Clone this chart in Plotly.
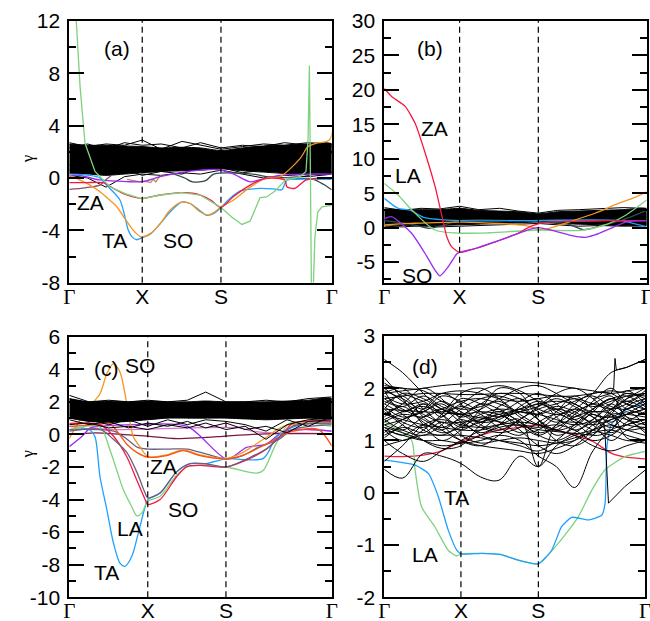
import plotly.graph_objects as go

# ---------------- high-symmetry points (fraction of k-path) ----------------
kpts_a = [0.0, 0.278, 0.578, 1.0]
kpts_b = [0.0, 0.287, 0.587, 1.0]
kpts_c = [0.0, 0.299, 0.597, 1.0]
kpts_d = [0.0, 0.294, 0.591, 1.0]
klabels = ["Γ", "X", "S", "Γ"]

# ---------------- panel (a) ----------------
ka_grid = [0, 0.07, 0.14, 0.21, 0.278, 0.35, 0.43, 0.5, 0.578, 0.66, 0.74, 0.82, 0.91, 1.0]
band_a_hi = [2.6, 2.5, 2.5, 2.45, 2.4, 2.3, 2.35, 2.3, 2.1, 2.3, 2.45, 2.5, 2.6, 2.6]
band_a_lo = [0.35, 0.3, 0.2, 0.3, 0.4, 0.5, 0.55, 0.6, 0.7, 0.55, 0.45, 0.35, 0.3, 0.35]
black_a = [
    [2.7, 2.4, 2.6, 2.5, 2.9, 2.2, 2.8, 2.5, 2.2, 2.4, 2.6, 2.5, 2.7, 2.6],
    [0.2, 0.0, -0.7, 0.1, 0.3, 0.2, 0.4, 0.3, 0.6, 0.3, 0.0, 0.2, 0.1, 0.3],
    [1.0, 1.5, 2.0, 1.2, 0.8, 1.6, 2.0, 1.4, 1.5, 1.9, 1.2, 1.0, 1.6, 1.9],
    [0.6, 0.9, 0.5, 0.7, 0.2, 0.5, 0.3, 0.9, 0.8, 0.4, 0.6, 0.5, 0.2, 0.5],
    [2.3, 2.6, 2.2, 2.7, 2.5, 2.6, 2.3, 2.7, 2.3, 2.5, 2.4, 2.7, 2.5, 2.4],
]
green_a_k = [0.015, 0.026, 0.041, 0.06, 0.098, 0.155, 0.213, 0.278, 0.346, 0.428, 0.498, 0.578,
             0.62, 0.658, 0.689, 0.727, 0.752, 0.784, 0.822, 0.879, 0.902, 0.91, 0.915, 0.919,
             0.923, 0.929, 0.936, 0.947, 0.963, 1.0]
green_a_g = [16, 12, 7, 2.65, 0.5, -0.67, -1.2, -1.6, -1.3, -1.12, -1.3, -2.25,
             -3.0, -3.55, -3.3, -1.5, -1.45, -1.0, -0.2, 0.1, 0.5, 3.0, 8.6, 0.0,
             -9.0, -9.0, -4.5, -2.6, -2.2, -2.1]
blue_a_k = [0, 0.079, 0.117, 0.13, 0.155, 0.193, 0.212, 0.225, 0.239, 0.257, 0.278, 0.308, 0.346,
            0.384, 0.428, 0.46, 0.498, 0.524, 0.551, 0.578, 0.61, 0.65, 0.727, 0.784, 0.81,
            0.829, 0.86, 1.0]
blue_a_g = [0.3, 0.2, 0.0, -0.28, -0.8, -1.68, -2.96, -4.0, -4.5, -4.72, -4.55, -4.3, -3.5,
            -2.6, -1.85, -1.95, -2.5, -2.85, -2.7, -2.25, -1.6, -1.0, -0.79, -0.85, -0.9,
            -0.16, -0.1, -0.1]
orange_a_k = [0, 0.028, 0.079, 0.117, 0.155, 0.181, 0.212, 0.244, 0.269, 0.278, 0.308, 0.346,
              0.384, 0.428, 0.46, 0.498, 0.53, 0.555, 0.578, 0.625, 0.689, 0.752, 0.803, 0.88,
              0.91, 0.94, 0.993, 1.0]
orange_a_g = [0.2, -0.03, -0.54, -1.05, -1.7, -2.2, -3.1, -4.0, -4.45, -4.5, -4.25, -3.5,
              -2.45, -1.85, -1.95, -2.58, -2.83, -2.58, -2.2, -1.7, -0.7, 0.0, 0.1, 1.5,
              2.4, 2.65, 2.95, 14.0]
red_a_k = [0, 0.06, 0.13, 0.168, 0.219, 0.278, 0.346, 0.428, 0.47, 0.5, 0.54, 0.578, 0.625,
           0.689, 0.752, 0.822, 0.829, 0.86, 0.902, 1.0]
red_a_g = [-0.36, -0.36, -0.36, -0.8, -1.3, -1.56, -1.3, -1.12, -1.15, -1.3, -1.7, -2.25, -1.43,
           -0.54, -0.03, -0.16, -0.67, -0.79, -0.16, 0.0]
purple_a_k = [0, 0.028, 0.117, 0.219, 0.278, 0.346, 0.42, 0.5, 0.56, 0.62, 0.689, 0.72, 0.8, 0.9, 1.0]
purple_a_g = [0.1, 0.23, -0.15, -0.28, -0.28, 0.1, 0.4, 0.6, 0.65, 0.35, -0.29, -0.16, 0.2, 0.3, 0.3]
mauve_a_k = [0, 0.06, 0.117, 0.135, 0.16]
mauve_a_g = [-0.87, -0.75, -0.54, -0.2, 0.2]
tan_a_k = [0.22, 0.25, 0.27, 0.29, 0.31, 0.32, 0.33, 0.34, 0.35]
tan_a_g = [-0.1, -0.25, -0.3, -0.25, -0.35, -0.1, -0.3, 0.0, 0.2]
slate_a_k = [0.4, 0.44, 0.47, 0.52, 0.55, 0.7, 0.75, 0.85, 0.93, 0.97, 1.0]
slate_a_g = [0.3, 0.0, -0.3, -0.2, 0.3, 0.3, 0.1, 0.0, -0.1, -0.5, -0.9]

# ---------------- panel (b) ----------------
kb_grid = [0, 0.07, 0.14, 0.21, 0.287, 0.36, 0.44, 0.51, 0.587, 0.66, 0.74, 0.82, 0.91, 1.0]
band_b_hi = [2.7, 2.6, 2.6, 2.6, 2.8, 2.5, 2.4, 2.3, 2.0, 2.3, 2.4, 2.5, 2.6, 2.7]
band_b_lo = [0.4, 0.3, 0.2, 0.3, 0.4, 0.5, 0.6, 0.7, 0.8, 0.6, 0.5, 0.4, 0.3, 0.4]
black_b = [
    [2.9, 2.5, 2.8, 2.7, 3.1, 2.6, 2.8, 2.4, 2.1, 2.5, 2.6, 2.7, 2.9, 2.8],
    [0.2, 0.1, 0.3, 0.1, 0.2, 0.3, 0.4, 0.5, 0.6, 0.4, 0.2, 0.3, 0.2, 0.3],
    [1.2, 1.8, 2.2, 1.0, 1.6, 2.1, 1.3, 1.0, 1.4, 1.9, 1.1, 1.6, 2.2, 1.5],
]
red_b_k = [0, 0.029, 0.08, 0.118, 0.156, 0.194, 0.22, 0.238, 0.257, 0.287, 0.35, 0.42, 0.5, 0.56, 0.62, 0.75, 0.85, 1.0]
red_b_g = [20.2, 19.0, 17.6, 15.1, 10.8, 5.9, 1.6, -1.3, -2.8, -3.6, -3.0, -2.1, -1.0, 0.2, 0.8, 0.9, 1.0, 1.0]
purple_b_k = [0, 0.028, 0.104, 0.155, 0.193, 0.212, 0.244, 0.276, 0.287, 0.35, 0.42, 0.5, 0.56,
              0.587, 0.65, 0.72, 0.765, 0.8, 0.87, 0.92, 1.0]
purple_b_g = [1.3, 1.6, -0.83, -3.73, -6.16, -7.0, -5.68, -3.83, -3.6, -3.0, -2.1, -1.0, -0.2,
              0.0, -0.5, -1.2, -1.41, -1.1, 0.0, 0.8, 1.0]
green_b_k = [0, 0.053, 0.104, 0.193, 0.28, 0.4, 0.587, 0.75, 0.85, 0.92, 1.0]
green_b_g = [6.4, 4.7, 2.6, -0.35, -0.8, -0.75, -0.35, -0.4, 0.5, 1.8, 4.0]
blue_b_k = [0, 0.053, 0.1, 0.15, 0.3, 0.5, 0.9, 0.96, 1.0]
blue_b_g = [4.25, 2.8, 2.5, 1.5, 1.0, 1.0, 1.0, 0.5, 0.1]
orange_b_k = [0, 0.1, 0.3, 0.55, 0.587, 0.62, 0.72, 0.803, 0.892, 0.95, 1.0]
orange_b_g = [0.4, 0.6, 0.8, 0.2, -0.3, -0.2, 1.0, 2.08, 3.5, 4.3, 5.2]
slate_b_k = [0, 0.1, 0.17, 0.22, 0.287, 0.5, 0.7, 0.76, 0.82, 0.9, 1.0]
slate_b_g = [1.0, 0.5, -0.1, 0.3, 1.0, 1.0, 0.5, -0.3, 0.2, 1.0, 2.5]

# ---------------- panel (c) ----------------
kc_grid = [0, 0.075, 0.15, 0.225, 0.299, 0.375, 0.45, 0.52, 0.597, 0.67, 0.75, 0.83, 0.91, 1.0]
band_c_hi = [2.2, 2.0, 2.05, 2.0, 2.05, 2.0, 2.0, 2.05, 2.0, 2.0, 2.0, 2.05, 2.1, 2.2]
band_c_lo = [1.0, 0.8, 0.75, 0.8, 0.9, 1.0, 1.0, 1.0, 1.0, 0.95, 0.9, 0.95, 1.0, 1.0]
black_c = [
    [2.4, 2.0, 2.1, 2.0, 2.1, 2.0, 2.1, 2.6, 2.0, 2.0, 2.1, 2.0, 2.2, 2.3],
    [0.6, 0.7, 0.4, 0.5, 0.3, 0.6, 0.4, 0.7, 0.3, 0.5, -0.3, 0.6, 0.9, 1.0],
    [0.9, 0.6, 0.8, 0.4, 0.7, 0.5, 0.8, 0.4, 0.7, 0.3, 0.5, 0.1, 0.8, 0.9],
    [1.2, 0.9, 0.6, 0.9, 0.5, 0.9, 0.6, 0.9, 0.8, 0.6, 0.2, 0.9, 0.5, 1.1],
]
orange_c_k = [0, 0.066, 0.117, 0.143, 0.168, 0.193, 0.219, 0.244, 0.269, 0.299, 0.371, 0.434,
              0.498, 0.597, 0.65, 0.74, 0.816, 1.0]
orange_c_g = [-0.24, 1.5, 2.5, 3.73, 4.35, 3.84, 1.9, -0.14, -0.75, -1.36, -1.26, -0.95,
              -1.26, -1.47, -1.2, -0.3, 0.5, 0.7]
orangered_c_k = [0, 0.1, 0.155, 0.219, 0.257, 0.299, 0.371, 0.434, 0.498, 0.597, 0.66, 0.75, 0.85, 0.95, 1.0]
orangered_c_g = [0.5, 0.6, 0.65, -0.6, -1.1, -1.4, -1.3, -1.0, -1.3, -1.5, -1.3, -0.6, 0.2, 0.3, -0.7]
blue_c_k = [0, 0.079, 0.098, 0.117, 0.143, 0.168, 0.193, 0.212, 0.238, 0.263, 0.289, 0.299,
            0.346, 0.409, 0.46, 0.52, 0.597, 0.74, 0.79, 0.854, 1.0]
blue_c_g = [0.5, 0.27, -0.14, -2.6, -4.6, -6.65, -7.9, -8.1, -7.5, -6.06, -4.44, -4.0,
            -3.6, -2.3, -1.8, -1.8, -1.5, -1.47, -0.14, 0.47, 0.9]
green_c_k = [0, 0.117, 0.155, 0.181, 0.206, 0.238, 0.257, 0.276, 0.299, 0.346, 0.409, 0.448,
             0.498, 0.597, 0.714, 0.74, 0.79, 0.841, 1.0]
green_c_g = [0.3, 0.47, -0.95, -2.2, -3.4, -4.44, -5.0, -4.85, -4.1, -3.8, -2.5, -2.0,
             -1.9, -2.0, -2.38, -2.2, -0.5, 0.7, 0.5]
red_c_k = [0, 0.117, 0.168, 0.219, 0.257, 0.289, 0.299, 0.346, 0.409, 0.448, 0.498, 0.597,
           0.689, 0.752, 0.816, 0.854, 1.0]
red_c_g = [0.68, 0.6, -0.1, -1.37, -2.8, -4.0, -4.3, -4.0, -2.6, -1.98, -1.9, -2.0,
           -1.47, -0.9, 0.1, 0.7, 0.8]
greyso_c_k = [0, 0.12, 0.168, 0.219, 0.257, 0.289, 0.299, 0.346, 0.409, 0.46, 0.52, 0.597,
              0.69, 0.75, 0.8, 0.85, 1.0]
greyso_c_g = [0.2, 0.3, -0.3, -1.1, -2.3, -3.6, -3.9, -3.6, -2.3, -1.8, -1.8, -2.0,
              -1.4, -0.9, -0.2, 0.5, 0.7]
greyza_c_k = [0, 0.17, 0.22, 0.26, 0.299, 0.38, 0.45, 0.52, 0.597, 0.66, 0.72, 0.8, 0.85, 1.0]
greyza_c_g = [0.3, 0.2, -0.3, -0.8, -0.9, -0.9, -0.9, -1.2, -1.5, -1.3, -0.8, -0.3, 0.3, 0.6]
purple_c_k = [0, 0.05, 0.08, 0.12, 0.25, 0.45, 0.6, 0.676, 0.75, 0.8, 0.85, 1.0]
purple_c_g = [-0.75, -0.1, 0.4, 0.5, 0.6, 0.5, -1.5, -0.8, -0.6, 0.0, 0.3, 0.2]
maroon_c_k = [0, 0.1, 0.2, 0.299, 0.4, 0.5, 0.597, 0.7, 0.8, 1.0]
maroon_c_g = [0.0, 0.1, 0.0, -0.1, -0.25, -0.2, -0.1, 0.0, 0.05, 0.05]
pink_c_k = [0, 0.1, 0.2, 0.65, 0.7, 0.8, 0.9, 1.0]
pink_c_g = [0.3, 0.35, 0.3, 0.4, 0.2, 0.1, 0.3, 0.2]

# ---------------- panel (d) ----------------
kd_grid = [0, 0.07, 0.15, 0.22, 0.294, 0.37, 0.44, 0.52, 0.591, 0.66, 0.73, 0.80, 0.87, 0.93, 1.0]
black_d = [
    [2.55, 2.3, 1.9, 1.6, 1.5, 1.7, 1.9, 1.8, 1.6, 1.5, 1.6, 1.9, 2.3, 2.4, 2.55],
    [0.45, 0.28, 0.75, 0.7, 0.56, 0.3, 0.24, 0.7, 0.5, 0.9, 1.1, 1.2, 1.3, 1.2, 1.25],
    [1.2, 1.1, 1.0, 1.0, 0.95, 1.0, 1.1, 1.0, 0.7, 0.5, 0.1, 0.8, 1.2, 1.3, 1.4],
    [1.9, 1.95, 2.0, 2.05, 2.08, 2.1, 2.12, 2.12, 2.1, 2.05, 2.0, 1.95, 1.9, 1.95, 2.0],
    [1.8, 1.85, 1.9, 1.9, 1.88, 1.88, 1.9, 1.9, 1.88, 1.85, 1.85, 1.9, 1.95, 1.9, 1.85],
    [1.0, 0.75, 0.6, 0.8, 1.0, 1.2, 1.45, 1.6, 1.75, 1.6, 1.4, 1.2, 1.1, 1.0, 1.0],
    [2.2, 1.8, 1.3, 1.0, 1.2, 1.6, 2.0, 1.9, 1.4, 1.0, 0.9, 1.1, 1.5, 1.8, 1.9],
    [1.5, 1.7, 2.0, 1.8, 1.4, 1.1, 1.0, 0.9, 0.8, 1.0, 1.3, 1.6, 1.8, 1.7, 1.6],
    [1.3, 1.4, 1.6, 1.9, 1.7, 1.3, 1.2, 1.4, 1.65, 1.9, 2.0, 1.8, 1.5, 1.4, 1.3],
    [1.7, 1.5, 1.2, 1.1, 1.3, 1.5, 1.6, 1.55, 1.5, 1.4, 1.3, 1.4, 1.7, 1.9, 1.8],
    [1.1, 1.3, 1.7, 1.5, 1.1, 0.95, 1.0, 1.05, 1.0, 0.95, 1.0, 1.2, 1.4, 1.5, 1.6],
    [1.9, 2.0, 1.6, 1.3, 1.0, 0.9, 1.1, 1.4, 1.6, 1.7, 1.8, 1.7, 1.6, 1.7, 1.9],
    [1.4, 1.2, 1.1, 1.3, 1.6, 1.8, 1.85, 1.7, 1.4, 1.2, 1.3, 1.5, 1.3, 1.2, 1.1],
    [1.6, 1.9, 1.8, 1.6, 1.5, 1.55, 1.5, 1.3, 1.1, 1.3, 1.7, 1.9, 1.9, 1.7, 1.5],
    [1.2, 1.0, 1.2, 1.5, 1.9, 2.0, 1.8, 1.5, 1.3, 1.2, 1.5, 1.7, 1.6, 1.4, 1.2],
    [2.0, 1.75, 1.5, 1.35, 1.35, 1.4, 1.5, 1.6, 1.7, 1.75, 1.7, 1.5, 1.45, 1.6, 1.75],
    [1.75, 1.6, 1.4, 1.2, 1.0, 0.9, 0.85, 0.8, 0.75, 0.85, 1.0, 1.3, 1.5, 1.5, 1.45],
    [1.5, 1.4, 1.3, 1.25, 1.2, 1.2, 1.3, 1.4, 0.5, 1.3, 1.35, 1.3, 1.4, 1.5, 1.6],
    [0.9, 1.0, 1.1, 1.1, 1.1, 1.05, 1.0, 0.95, 0.9, 0.95, 1.05, 1.15, 1.2, 1.1, 1.0],
    [1.35, 1.5, 1.45, 1.6, 1.75, 1.8, 1.7, 1.55, 1.5, 1.6, 1.5, 1.3, 1.0, 1.2, 1.35],
    [1.85, 1.7, 1.75, 1.9, 1.95, 1.9, 1.8, 1.75, 1.8, 1.85, 1.8, 1.65, 1.75, 1.85, 1.9],
    [0.6, 0.9, 1.3, 1.4, 1.3, 1.25, 1.3, 1.35, 1.3, 1.2, 1.1, 0.9, 0.8, 0.9, 1.0],
    [1.25, 1.15, 1.0, 0.9, 0.95, 1.1, 1.25, 1.3, 1.25, 1.3, 1.2, 1.0, 1.1, 1.3, 1.4],
    [2.05, 2.0, 1.95, 1.75, 1.6, 1.65, 1.8, 2.0, 2.05, 1.9, 1.7, 1.55, 1.6, 1.8, 2.0],
    [1.55, 1.3, 1.0, 0.85, 0.9, 1.3, 1.5, 1.2, 0.9, 0.75, 0.9, 1.2, 1.6, 1.75, 1.6],
    [1.65, 1.45, 1.55, 1.75, 1.55, 1.35, 1.4, 1.6, 1.4, 1.1, 1.25, 1.55, 1.8, 1.6, 1.5],
    [1.45, 1.65, 1.35, 1.15, 1.25, 1.45, 1.35, 1.15, 1.2, 1.45, 1.6, 1.45, 1.25, 1.5, 1.7],
    [1.95, 1.55, 1.7, 1.45, 1.8, 1.7, 1.55, 1.75, 1.9, 1.7, 1.45, 1.75, 2.0, 1.75, 1.95],
    [1.15, 1.4, 1.55, 1.7, 1.45, 1.6, 1.75, 1.45, 1.3, 1.55, 1.85, 1.6, 1.35, 1.55, 1.3],
    [1.7, 1.85, 1.45, 1.25, 1.4, 1.25, 1.15, 1.25, 1.5, 1.65, 1.55, 1.35, 1.55, 1.95, 1.7],
    [1.3, 1.2, 1.45, 1.6, 1.35, 1.15, 1.3, 1.65, 1.8, 1.45, 1.2, 1.4, 1.7, 1.45, 1.15],
    [2.1, 1.9, 1.75, 1.55, 1.7, 1.95, 2.05, 1.95, 1.75, 1.6, 1.75, 1.85, 1.65, 1.6, 1.8],
    [1.05, 1.25, 1.15, 1.35, 1.2, 1.4, 1.55, 1.35, 1.1, 1.0, 1.15, 1.35, 1.45, 1.3, 1.25],
    [1.6, 1.35, 1.25, 1.45, 1.65, 1.5, 1.25, 1.1, 1.35, 1.5, 1.35, 1.1, 1.2, 1.65, 1.8],
    [1.8, 1.65, 1.85, 1.65, 1.5, 1.35, 1.65, 1.8, 1.55, 1.35, 1.55, 1.7, 1.85, 1.45, 1.4],
    [1.4, 1.55, 1.65, 1.5, 1.25, 1.35, 1.45, 1.55, 1.65, 1.8, 1.65, 1.45, 1.15, 1.35, 1.55],
    [1.25, 1.1, 1.3, 1.2, 1.45, 1.7, 1.6, 1.35, 1.15, 1.25, 1.45, 1.55, 1.5, 1.05, 0.95],
    [1.95, 1.8, 1.6, 1.85, 1.75, 1.55, 1.45, 1.55, 1.7, 1.55, 1.4, 1.6, 1.8, 1.85, 1.65],
]
dip_d_k = [0.0, 0.3, 0.6, 0.8, 0.845, 0.86, 0.923, 1.0]
dip_d_g = [1.6, 1.5, 1.2, 1.1, 1.3, -0.2, 0.12, 0.43]
spike_d_k = [0.8, 0.87, 0.88, 0.885, 0.89, 0.93, 1.0]
spike_d_g = [1.8, 1.9, 2.0, 2.57, 2.35, 2.4, 2.55]
red_d_g = [0.7, 0.69, 0.72, 0.8, 0.98, 1.1, 1.2, 1.25, 1.3, 1.2, 1.1, 0.98, 0.76, 0.68, 0.65]
blue_d_k = [0, 0.118, 0.169, 0.207, 0.245, 0.278, 0.294, 0.374, 0.444, 0.514, 0.591, 0.642,
            0.68, 0.719, 0.783, 0.834, 0.847, 0.853, 0.857, 0.87, 0.93, 1.0]
blue_d_g = [0.63, 0.53, 0.37, -0.07, -0.71, -1.1, -1.17, -1.16, -1.18, -1.29, -1.36, -1.1,
            -0.65, -0.47, -0.52, -0.43, -0.2, 0.82, 1.0, 1.3, 1.6, 1.7]
green_d_k = [0, 0.105, 0.118, 0.143, 0.194, 0.245, 0.278, 0.294, 0.374, 0.444, 0.514, 0.591,
             0.667, 0.744, 0.796, 0.847, 0.923, 1.0]
green_d_g = [1.36, 1.0, 0.44, -0.27, -0.65, -1.1, -1.21, -1.17, -1.16, -1.18, -1.29, -1.36,
             -0.97, -0.46, 0.05, 0.44, 0.69, 0.79]

# ---------------- axis tick labels ----------------
yt_a = [-8, -4, 0, 4, 8, 12]
yt_b = [-5, 0, 5, 10, 15, 20, 25, 30]
yt_c = [-10, -8, -6, -4, -2, 0, 2, 4, 6]
yt_d = [-2, -1, 0, 1, 2, 3]
ym_a = [-6, -2, 2, 6, 10]
ym_b = [-7.5, -2.5, 2.5, 7.5, 12.5, 17.5, 22.5, 27.5]
ym_c = [-9, -7, -5, -3, -1, 1, 3, 5]
ym_d = [-1.5, -0.5, 0.5, 1.5, 2.5]
yrange_a = [-8, 12]
yrange_b = [-8, 30]
yrange_c = [-10, 6]
yrange_d = [-2, 3]

# text labels: (text, k, gamma)
labels_a = [("ZA", 0.082, -1.9), ("TA", 0.174, -4.74), ("SO", 0.415, -4.8)]
labels_b = [("ZA", 0.193, 14.4), ("LA", 0.091, 7.5), ("SO", 0.123, -6.9)]
labels_c = [("SO", 0.269, 4.26), ("ZA", 0.358, -1.98), ("SO", 0.434, -4.64),
            ("LA", 0.231, -5.76), ("TA", 0.14, -8.5)]
labels_d = [("TA", 0.278, -0.1), ("LA", 0.156, -1.19)]

C_GREEN = "#7dd27d"
C_BLUE = "#1ea0ff"
C_RED = "#f5193f"
C_ORANGE = "#f5961e"
C_PURPLE = "#9a2bf0"
C_MAUVE = "#8a5068"
C_TAN = "#c08a5a"
C_SLATE = "#2e4a4a"
C_GREYP = "#6b5f80"
C_MAROON = "#7a1840"
C_PINK = "#e070d0"
C_ORED = "#ff5010"

fig = go.Figure()


def line(x, y, color, ax, width=1.3, shape="spline", smooth=0.8):
    xa, ya = ax
    kw = dict(shape=shape)
    if shape == "spline":
        kw["smoothing"] = smooth
    fig.add_trace(go.Scatter(x=x, y=y, mode="lines", xaxis=xa, yaxis=ya,
                             line=dict(color=color, width=width, **kw),
                             showlegend=False, hoverinfo="skip"))


def band(k, hi, lo, ax):
    xa, ya = ax
    fig.add_trace(go.Scatter(x=list(k) + list(k[::-1]), y=list(hi) + list(lo[::-1]),
                             fill="toself", fillcolor="black", mode="lines",
                             line=dict(color="black", width=1, shape="spline", smoothing=0.6),
                             xaxis=xa, yaxis=ya, showlegend=False, hoverinfo="skip"))


AX_A, AX_B, AX_C, AX_D = ("x", "y"), ("x2", "y2"), ("x3", "y3"), ("x4", "y4")

# panel a
band(ka_grid, band_a_hi, band_a_lo, AX_A)
for g in black_a:
    line(ka_grid, g, "black", AX_A, width=1.0, shape="linear")
line(mauve_a_k, mauve_a_g, C_MAUVE, AX_A)
line(tan_a_k, tan_a_g, C_TAN, AX_A, shape="linear")
line(slate_a_k, slate_a_g, C_SLATE, AX_A)
line(purple_a_k, purple_a_g, C_PURPLE, AX_A)
line(blue_a_k, blue_a_g, C_BLUE, AX_A)
line(orange_a_k, orange_a_g, C_ORANGE, AX_A)
line(red_a_k, red_a_g, C_RED, AX_A)
line(green_a_k, green_a_g, C_GREEN, AX_A, shape="linear")

# panel b
band(kb_grid, band_b_hi, band_b_lo, AX_B)
for g in black_b:
    line(kb_grid, g, "black", AX_B, width=1.0, shape="linear")
line(slate_b_k, slate_b_g, C_SLATE, AX_B)
line(blue_b_k, blue_b_g, C_BLUE, AX_B)
line(orange_b_k, orange_b_g, C_ORANGE, AX_B)
line(green_b_k, green_b_g, C_GREEN, AX_B)
line(red_b_k, red_b_g, C_RED, AX_B, smooth=0.5)
line(purple_b_k, purple_b_g, C_PURPLE, AX_B, smooth=0.6)

# panel c
line(pink_c_k, pink_c_g, C_PINK, AX_C)
line(maroon_c_k, maroon_c_g, C_MAROON, AX_C)
line(purple_c_k, purple_c_g, C_PURPLE, AX_C)
line(blue_c_k, blue_c_g, C_BLUE, AX_C)
line(green_c_k, green_c_g, C_GREEN, AX_C)
line(greyza_c_k, greyza_c_g, C_GREYP, AX_C)
line(orange_c_k, orange_c_g, C_ORANGE, AX_C)
line(orangered_c_k, orangered_c_g, C_ORED, AX_C)
line(red_c_k, red_c_g, C_RED, AX_C)
line(greyso_c_k, greyso_c_g, C_GREYP, AX_C)
band(kc_grid, band_c_hi, band_c_lo, AX_C)
for g in black_c:
    line(kc_grid, g, "black", AX_C, width=1.0, shape="linear")

# panel d
line(kd_grid, red_d_g, C_RED, AX_D)
line(green_d_k, green_d_g, C_GREEN, AX_D, smooth=0.6)
line(blue_d_k, blue_d_g, C_BLUE, AX_D, smooth=0.5)
for g in black_d:
    line(kd_grid, g, "black", AX_D, width=1.0, smooth=1.0)
line(dip_d_k, dip_d_g, "black", AX_D, width=1.0, shape="linear")
line(spike_d_k, spike_d_g, "black", AX_D, width=1.0, shape="linear")

FONT = "Liberation Sans, Arial, sans-serif"
SERIF = "Liberation Serif, Times New Roman, serif"


def ticktxt(labels):
    out = []
    for t in labels:
        if t == "Γ":
            out.append('<span style="font-family:Liberation Serif">Γ</span>')
        else:
            out.append(t)
    return out


def xaxis(domain, kpts, anchor):
    return dict(domain=domain, range=[0, 1], anchor=anchor, tickmode="array",
                tickvals=kpts, ticktext=ticktxt(klabels), ticks="", showgrid=False,
                zeroline=False, showline=True, linecolor="black", linewidth=1.8,
                mirror=True, tickfont=dict(family=FONT, size=21, color="black"),
                ticklabelstandoff=-6, automargin=False, ticklabeloverflow="allow")


def yaxis(domain, rng, major, minor, anchor):
    return dict(domain=domain, range=rng, anchor=anchor, tickmode="array",
                tickvals=major, ticktext=[str(v) for v in major], ticks="inside",
                ticklen=15, tickwidth=1.5, tickcolor="black",
                minor=dict(tickmode="array", tickvals=minor, ticks="inside", ticklen=7,
                           tickwidth=1.5, tickcolor="black", showgrid=False),
                showgrid=False, zeroline=False, showline=True, linecolor="black",
                linewidth=1.8, mirror="allticks", automargin=False, ticklabeloverflow="allow",
                tickfont=dict(family=FONT, size=21, color="black"), ticklabelstandoff=3)


XL, XR = [0.1066, 0.5103], [0.5912, 0.9949]
YT, YB = [0.5448, 0.9662], [0.0382, 0.4578]

fig.update_layout(
    width=650, height=621, margin=dict(l=0, r=0, t=0, b=0, autoexpand=False),
    paper_bgcolor="white", plot_bgcolor="white", showlegend=False,
    xaxis=xaxis(XL, kpts_a, "y"), yaxis=yaxis(YT, yrange_a, yt_a, ym_a, "x"),
    xaxis2=xaxis(XR, kpts_b, "y2"), yaxis2=yaxis(YT, yrange_b, yt_b, ym_b, "x2"),
    xaxis3=xaxis(XL, kpts_c, "y3"), yaxis3=yaxis(YB, yrange_c, yt_c, ym_c, "x3"),
    xaxis4=xaxis([0.5912, 0.9923], kpts_d, "y4"), yaxis4=yaxis([0.0382, 0.459], yrange_d, yt_d, ym_d, "x4"),
)

# dashed lines at X and S
for kp, xa, ya in [(kpts_a, "x", "y"), (kpts_b, "x2", "y2"), (kpts_c, "x3", "y3"), (kpts_d, "x4", "y4")]:
    for kk in kp[1:3]:
        fig.add_shape(type="line", xref=xa, yref=ya + " domain", x0=kk, x1=kk, y0=0, y1=1,
                      line=dict(color="black", width=1.2, dash="6px,4px"))

anns = []
for labs, xa, ya in [(labels_a, "x", "y"), (labels_b, "x2", "y2"), (labels_c, "x3", "y3"), (labels_d, "x4", "y4")]:
    for t, k, g in labs:
        anns.append(dict(text=t, x=k, y=g, xref=xa, yref=ya, showarrow=False,
                         font=dict(family=FONT, size=21, color="black")))
for t, xa, ya, px, py in [("(a)", "x", "y", 0.123, 0.946), ("(b)", "x2", "y2", 0.117, 0.946),
                          ("(c)", "x3", "y3", 0.085, 0.93), ("(d)", "x4", "y4", 0.099, 0.934)]:
    anns.append(dict(text=t, x=px, y=py, xref=xa + " domain", yref=ya + " domain",
                     showarrow=False, font=dict(family=FONT, size=21, color="black")))
for py in [0.754, 0.258]:
    anns.append(dict(text="γ", x=0.024, y=py, xref="paper", yref="paper", showarrow=False,
                     textangle=-90, font=dict(family=SERIF, size=17, color="black")))
fig.update_layout(annotations=anns)

fig.write_html("out.html", config={"displayModeBar": False, "responsive": False},
               post_script="document.body.style.margin='0px';document.body.style.overflow='hidden';")
